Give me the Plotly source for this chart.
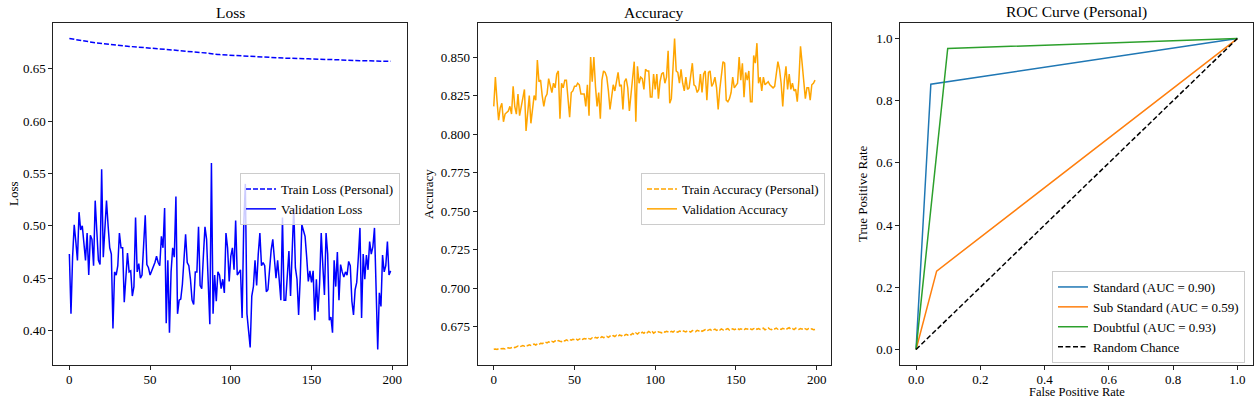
import plotly.graph_objects as go

# ---------------- data ----------------
epochs = list(range(200))

train_loss = [
    0.6787, 0.6784, 0.6781, 0.6779, 0.6777, 0.6774, 0.6772, 0.6770, 0.6767, 0.6765,
    0.6762, 0.6760, 0.6757, 0.6754, 0.6751, 0.6749, 0.6747, 0.6745, 0.6743, 0.6741,
    0.6740, 0.6738, 0.6736, 0.6734, 0.6733, 0.6732, 0.6730, 0.6728, 0.6727, 0.6725,
    0.6724, 0.6722, 0.6720, 0.6718, 0.6717, 0.6716, 0.6714, 0.6712, 0.6711, 0.6710,
    0.6709, 0.6708, 0.6707, 0.6706, 0.6705, 0.6704, 0.6702, 0.6701, 0.6700, 0.6698,
    0.6697, 0.6695, 0.6694, 0.6693, 0.6692, 0.6691, 0.6690, 0.6688, 0.6686, 0.6684,
    0.6683, 0.6682, 0.6680, 0.6678, 0.6677, 0.6676, 0.6675, 0.6673, 0.6672, 0.6671,
    0.6670, 0.6669, 0.6668, 0.6667, 0.6666, 0.6665, 0.6664, 0.6662, 0.6660, 0.6658,
    0.6656, 0.6654, 0.6651, 0.6650, 0.6649, 0.6648, 0.6647, 0.6645, 0.6642, 0.6638,
    0.6637, 0.6636, 0.6635, 0.6634, 0.6633, 0.6632, 0.6631, 0.6630, 0.6628, 0.6626,
    0.6625, 0.6624, 0.6623, 0.6622, 0.6621, 0.6620, 0.6620, 0.6619, 0.6618, 0.6617,
    0.6616, 0.6615, 0.6614, 0.6614, 0.6613, 0.6612, 0.6612, 0.6611, 0.6611, 0.6610,
    0.6609, 0.6608, 0.6607, 0.6607, 0.6606, 0.6605, 0.6604, 0.6604, 0.6603, 0.6602,
    0.6602, 0.6601, 0.6601, 0.6600, 0.6600, 0.6599, 0.6599, 0.6598, 0.6598, 0.6598,
    0.6597, 0.6596, 0.6596, 0.6595, 0.6595, 0.6594, 0.6594, 0.6593, 0.6593, 0.6592,
    0.6592, 0.6591, 0.6591, 0.6590, 0.6590, 0.6590, 0.6589, 0.6589, 0.6589, 0.6588,
    0.6588, 0.6587, 0.6587, 0.6586, 0.6585, 0.6584, 0.6584, 0.6583, 0.6582, 0.6582,
    0.6581, 0.6581, 0.6580, 0.6580, 0.6579, 0.6579, 0.6578, 0.6578, 0.6577, 0.6577,
    0.6576, 0.6576, 0.6575, 0.6575, 0.6574, 0.6574, 0.6573, 0.6573, 0.6573, 0.6572,
    0.6572, 0.6572, 0.6571, 0.6571, 0.6571, 0.6570, 0.6570, 0.6570, 0.6570, 0.6570,
]

val_loss = [
    0.473, 0.416, 0.470, 0.501, 0.485, 0.467, 0.513, 0.496, 0.500, 0.485,
    0.467, 0.493, 0.453, 0.491, 0.487, 0.462, 0.524, 0.495, 0.467, 0.463,
    0.554, 0.470, 0.500, 0.524, 0.500, 0.479, 0.473, 0.402, 0.456, 0.453,
    0.462, 0.493, 0.479, 0.479, 0.427, 0.456, 0.474, 0.456, 0.457, 0.433,
    0.442, 0.508, 0.456, 0.464, 0.450, 0.453, 0.479, 0.510, 0.463, 0.460,
    0.453, 0.457, 0.462, 0.465, 0.471, 0.465, 0.462, 0.490, 0.479, 0.517,
    0.407, 0.467, 0.398, 0.456, 0.479, 0.470, 0.528, 0.416, 0.429, 0.430,
    0.444, 0.465, 0.492, 0.465, 0.462, 0.449, 0.429, 0.425, 0.456, 0.456,
    0.499, 0.443, 0.440, 0.471, 0.499, 0.487, 0.450, 0.406, 0.560, 0.416,
    0.453, 0.428, 0.456, 0.453, 0.440, 0.449, 0.436, 0.493, 0.479, 0.447,
    0.471, 0.479, 0.458, 0.505, 0.453, 0.456, 0.458, 0.412, 0.500, 0.540,
    0.416, 0.400, 0.384, 0.433, 0.442, 0.467, 0.443, 0.473, 0.493, 0.462,
    0.465, 0.462, 0.437, 0.439, 0.458, 0.477, 0.487, 0.471, 0.450, 0.467,
    0.445, 0.429, 0.508, 0.429, 0.429, 0.455, 0.476, 0.433, 0.470, 0.517,
    0.460, 0.449, 0.415, 0.450, 0.501, 0.495, 0.490, 0.470, 0.447, 0.457,
    0.446, 0.457, 0.410, 0.449, 0.418, 0.445, 0.493, 0.462, 0.434, 0.493,
    0.473, 0.410, 0.413, 0.398, 0.467, 0.442, 0.475, 0.429, 0.463, 0.456,
    0.451, 0.456, 0.453, 0.466, 0.462, 0.428, 0.415, 0.439, 0.446, 0.470,
    0.498, 0.412, 0.473, 0.449, 0.472, 0.458, 0.485, 0.473, 0.480, 0.498,
    0.439, 0.382, 0.436, 0.423, 0.472, 0.456, 0.462, 0.485, 0.453, 0.457,
]

train_acc = [
    0.6604, 0.6606, 0.6603, 0.6608, 0.6607, 0.6610, 0.6609, 0.6606, 0.6612, 0.6614,
    0.6611, 0.6617, 0.6619, 0.6615, 0.6621, 0.6625, 0.6620, 0.6626, 0.6628, 0.6624,
    0.6630, 0.6627, 0.6633, 0.6629, 0.6635, 0.6638, 0.6632, 0.6640, 0.6636, 0.6643,
    0.6641, 0.6646, 0.6651, 0.6645, 0.6652, 0.6648, 0.6655, 0.6650, 0.6658, 0.6653,
    0.6660, 0.6656, 0.6654, 0.6662, 0.6658, 0.6665, 0.6660, 0.6667, 0.6663, 0.6669,
    0.6666, 0.6672, 0.6664, 0.6670, 0.6675, 0.6668, 0.6674, 0.6671, 0.6678, 0.6673,
    0.6670, 0.6679, 0.6675, 0.6681, 0.6676, 0.6684, 0.6678, 0.6686, 0.6680, 0.6683,
    0.6688, 0.6682, 0.6690, 0.6685, 0.6693, 0.6687, 0.6695, 0.6689, 0.6697, 0.6691,
    0.6699, 0.6694, 0.6701, 0.6696, 0.6704, 0.6698, 0.6707, 0.6700, 0.6710, 0.6703,
    0.6712, 0.6706, 0.6715, 0.6708, 0.6718, 0.6711, 0.6720, 0.6713, 0.6722, 0.6709,
    0.6716, 0.6712, 0.6718, 0.6714, 0.6711, 0.6719, 0.6715, 0.6721, 0.6717, 0.6713,
    0.6720, 0.6716, 0.6723, 0.6718, 0.6715, 0.6722, 0.6719, 0.6725, 0.6720, 0.6717,
    0.6724, 0.6721, 0.6716, 0.6726, 0.6722, 0.6719, 0.6727, 0.6723, 0.6729, 0.6721,
    0.6726, 0.6731, 0.6724, 0.6728, 0.6733, 0.6725, 0.6730, 0.6735, 0.6727, 0.6732,
    0.6728, 0.6736, 0.6730, 0.6726, 0.6734, 0.6738, 0.6729, 0.6733, 0.6737, 0.6731,
    0.6735, 0.6740, 0.6732, 0.6737, 0.6733, 0.6729, 0.6738, 0.6734, 0.6741, 0.6735,
    0.6731, 0.6738, 0.6742, 0.6734, 0.6739, 0.6733, 0.6736, 0.6741, 0.6730, 0.6737,
    0.6743, 0.6735, 0.6731, 0.6739, 0.6736, 0.6742, 0.6734, 0.6738, 0.6733, 0.6740,
    0.6736, 0.6731, 0.6739, 0.6744, 0.6735, 0.6738, 0.6732, 0.6741, 0.6737, 0.6733,
    0.6739, 0.6735, 0.6742, 0.6736, 0.6731, 0.6738, 0.6734, 0.6737, 0.6731, 0.6733,
]

val_acc = [
    0.818, 0.837, 0.822, 0.809, 0.817, 0.820, 0.808, 0.813, 0.814, 0.815,
    0.818, 0.813, 0.831, 0.818, 0.813, 0.826, 0.812, 0.818, 0.825, 0.829,
    0.802, 0.816, 0.825, 0.807, 0.816, 0.825, 0.822, 0.848, 0.834, 0.835,
    0.825, 0.818, 0.824, 0.826, 0.836, 0.832, 0.827, 0.833, 0.830, 0.839,
    0.841, 0.810, 0.833, 0.830, 0.835, 0.835, 0.821, 0.811, 0.827, 0.828,
    0.831, 0.831, 0.833, 0.832, 0.826, 0.826, 0.826, 0.818, 0.832, 0.812,
    0.850, 0.834, 0.850, 0.831, 0.818, 0.827, 0.810, 0.835, 0.841, 0.840,
    0.837, 0.828, 0.816, 0.824, 0.832, 0.828, 0.833, 0.840, 0.831, 0.832,
    0.816, 0.834, 0.836, 0.830, 0.815, 0.826, 0.833, 0.847, 0.808, 0.844,
    0.833, 0.837, 0.836, 0.829, 0.842, 0.841, 0.841, 0.824, 0.824, 0.839,
    0.829, 0.839, 0.823, 0.834, 0.839, 0.840, 0.833, 0.837, 0.854, 0.820,
    0.823, 0.846, 0.862, 0.841, 0.840, 0.833, 0.842, 0.833, 0.828, 0.837,
    0.829, 0.830, 0.840, 0.846, 0.832, 0.831, 0.827, 0.829, 0.839, 0.827,
    0.839, 0.841, 0.822, 0.840, 0.841, 0.831, 0.833, 0.837, 0.830, 0.816,
    0.829, 0.840, 0.847, 0.846, 0.822, 0.821, 0.823, 0.827, 0.837, 0.830,
    0.832, 0.833, 0.850, 0.835, 0.846, 0.824, 0.840, 0.835, 0.841, 0.821,
    0.821, 0.851, 0.846, 0.859, 0.833, 0.837, 0.828, 0.837, 0.832, 0.833,
    0.834, 0.832, 0.831, 0.830, 0.831, 0.840, 0.847, 0.842, 0.833, 0.818,
    0.835, 0.844, 0.829, 0.839, 0.829, 0.833, 0.828, 0.829, 0.821, 0.835,
    0.857, 0.846, 0.834, 0.823, 0.830, 0.830, 0.822, 0.832, 0.833, 0.835,
]

roc_classes = ["Standard", "Sub Standard", "Doubtful"]
roc_fpr = [[0.0, 0.046, 1.0], [0.0, 0.064, 1.0], [0.0, 0.0985, 1.0]]
roc_tpr = [[0.0, 0.853, 1.0], [0.0, 0.252, 1.0], [0.0, 0.968, 1.0]]
roc_auc = [0.90, 0.59, 0.93]
roc_colors = ["#1f77b4", "#ff7f0e", "#2ca02c"]
chance = [0.0, 1.0]

epoch_ticks = [0, 50, 100, 150, 200]
loss_ticks = [0.40, 0.45, 0.50, 0.55, 0.60, 0.65]
acc_ticks = [0.650, 0.675, 0.700, 0.725, 0.750, 0.775, 0.800, 0.825, 0.850]
rate_ticks = [0.0, 0.2, 0.4, 0.6, 0.8, 1.0]

# ---------------- styling ----------------
W, H = 1260, 399
FONT = "Liberation Serif, Times New Roman, DejaVu Serif, serif"
TICK = 13
TITLE = 15.5
dom1 = [53.3 / W, 406.7 / W]
dom2 = [477.7 / W, 831.1 / W]
dom3 = [900.0 / W, 1253.4 / W]
ydom = [(H - 365) / H, (H - 23) / H]


def pad(lo, hi):
    s = hi - lo
    return [lo - 0.05 * s, hi + 0.05 * s]


fig = go.Figure()

# Loss
fig.add_trace(go.Scatter(x=epochs, y=train_loss, mode="lines", name="Train Loss (Personal)",
                         line=dict(color="blue", width=1.5, dash="5px,2px"),
                         xaxis="x", yaxis="y", legend="legend"))
fig.add_trace(go.Scatter(x=epochs, y=val_loss, mode="lines", name="Validation Loss",
                         line=dict(color="blue", width=1.5),
                         xaxis="x", yaxis="y", legend="legend"))
# Accuracy
fig.add_trace(go.Scatter(x=epochs, y=train_acc, mode="lines", name="Train Accuracy (Personal)",
                         line=dict(color="orange", width=1.5, dash="5px,2px"),
                         xaxis="x2", yaxis="y2", legend="legend2"))
fig.add_trace(go.Scatter(x=epochs, y=val_acc, mode="lines", name="Validation Accuracy",
                         line=dict(color="orange", width=1.5),
                         xaxis="x2", yaxis="y2", legend="legend2"))
# ROC
for cls, fx, ty, auc, col in zip(roc_classes, roc_fpr, roc_tpr, roc_auc, roc_colors):
    fig.add_trace(go.Scatter(x=fx, y=ty, mode="lines", name=f"{cls} (AUC = {auc:.2f})",
                             line=dict(color=col, width=1.5),
                             xaxis="x3", yaxis="y3", legend="legend3"))
fig.add_trace(go.Scatter(x=chance, y=chance, mode="lines", name="Random Chance",
                         line=dict(color="black", width=1.5, dash="5px,2.5px"),
                         xaxis="x3", yaxis="y3", legend="legend3"))

axis_common = dict(showline=True, mirror=True, linecolor="#222", linewidth=1,
                   ticks="outside", ticklen=4, tickwidth=1, tickcolor="#222",
                   showgrid=False, zeroline=False, automargin=False,
                   tickfont=dict(family=FONT, size=TICK, color="black"))
x_common = dict(axis_common, ticklabelstandoff=-2)

all_loss = train_loss + val_loss
all_acc = train_acc + val_acc
xr = pad(0, 199)

legend_style = dict(xanchor="right", yanchor="top", xref="paper", yref="paper",
                    bgcolor="rgba(255,255,255,0.8)", bordercolor="#cccccc", borderwidth=1,
                    font=dict(family=FONT, size=TICK), tracegroupgap=0)

fig.update_layout(
    width=W, height=H, autosize=False, template="none",
    paper_bgcolor="white", plot_bgcolor="white",
    margin=dict(l=0, r=0, t=0, b=0),
    font=dict(family=FONT, size=TICK, color="black"),
    xaxis=dict(domain=dom1, anchor="y", range=xr, tickvals=epoch_ticks, **x_common),
    yaxis=dict(domain=ydom, anchor="x", range=pad(min(all_loss), max(all_loss)),
               tickvals=loss_ticks, tickformat=".2f", **axis_common),
    xaxis2=dict(domain=dom2, anchor="y2", range=xr, tickvals=epoch_ticks, **x_common),
    yaxis2=dict(domain=ydom, anchor="x2", range=pad(min(all_acc), max(all_acc)),
                tickvals=acc_ticks, tickformat=".3f", **axis_common),
    xaxis3=dict(domain=dom3, anchor="y3", range=pad(0, 1), tickvals=rate_ticks,
                tickformat=".1f", **x_common),
    yaxis3=dict(domain=ydom, anchor="x3", range=pad(0, 1), tickvals=rate_ticks,
                tickformat=".1f", **axis_common),
    legend=dict(x=400 / W, y=1 - 173 / H, **legend_style),
    legend2=dict(x=825 / W, y=1 - 173 / H, **legend_style),
    legend3=dict(x=1245 / W, y=1 - 271 / H, **legend_style),
    showlegend=True,
)

ann = []


def txt(x, y, s, size, angle=0, yanchor="middle"):
    ann.append(dict(x=x / W, y=1 - y / H, xref="paper", yref="paper", text=s,
                    showarrow=False, textangle=angle, xanchor="center", yanchor=yanchor,
                    borderpad=0, font=dict(family=FONT, size=size, color="black")))


txt((dom1[0] + dom1[1]) / 2 * W, 12, "Loss", TITLE)
txt((dom2[0] + dom2[1]) / 2 * W, 12, "Accuracy", TITLE)
txt((dom3[0] + dom3[1]) / 2 * W, 12, "ROC Curve (Personal)", TITLE)
txt(13, 194, "Loss", TICK, -90)
txt(428, 194, "Accuracy", TICK, -90)
txt(862, 194, "True Positive Rate", TICK, -90)
txt((dom3[0] + dom3[1]) / 2 * W, 400, "False Positive Rate", 12.5, yanchor="bottom")
fig.update_layout(annotations=ann)

fig.write_html("out.html", config={"displayModeBar": False},
               post_script="document.body.style.margin='0';document.body.style.overflow='hidden';")
